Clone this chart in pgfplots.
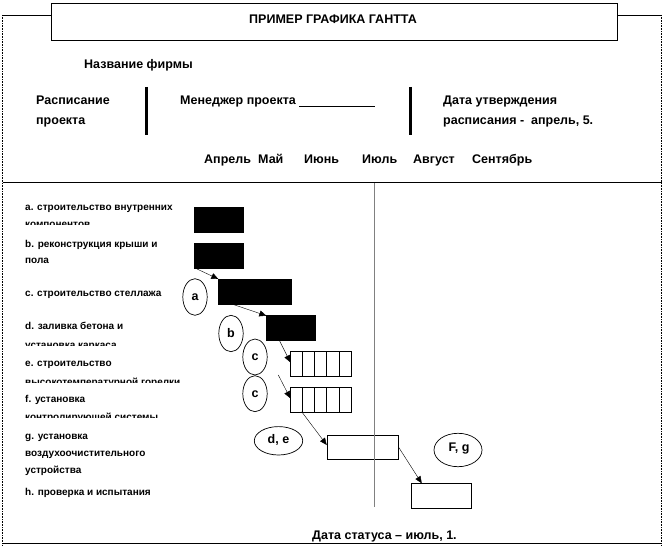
\documentclass[border=0pt]{standalone}
\usepackage{fontspec}
\setmainfont{Liberation Sans}
\usepackage{pgfplots}
\pgfplotsset{compat=1.18}
\usetikzlibrary{arrows.meta}
\newcommand{\hd}{\fontsize{12.5bp}{14bp}\selectfont\bfseries}
\newcommand{\lb}{\fontsize{10bp}{12bp}\selectfont\bfseries}
\begin{document}
\begin{tikzpicture}[x=1bp,y=-1bp]
\path[use as bounding box] (0,0) rectangle (666,546);
\begin{axis}[at={(0,0)}, anchor=north west, scale only axis,
  width=666bp, height=546bp, xmin=0, xmax=666, ymin=0, ymax=546,
  y dir=reverse, axis lines=none, clip=false, unbounded coords=jump]
% black (completed) bars: a, b, c, d
\addplot[fill=black, draw=black] coordinates {(194.3,207)(243,207)(243,231.7)(194.3,231.7)} --cycle;
\addplot[fill=black, draw=black] coordinates {(194.3,243)(243,243)(243,267.7)(194.3,267.7)} --cycle;
\addplot[fill=black, draw=black] coordinates {(218.3,279)(291,279)(291,303.7)(218.3,303.7)} --cycle;
\addplot[fill=black, draw=black] coordinates {(266.3,315)(315,315)(315,339.7)(266.3,339.7)} --cycle;
% hatched bars: e, f
\addplot[fill=white, draw=black] coordinates {(290.3,351)(351,351)(351,375.7)(290.3,375.7)} --cycle;
\addplot[black] coordinates {(302.4,351)(302.4,375.7)(302.4,nan)(314.5,351)(314.5,375.7)(314.5,nan)(326.6,351)(326.6,375.7)(326.6,nan)(338.8,351)(338.8,375.7)};
\addplot[fill=white, draw=black] coordinates {(290.3,387)(351,387)(351,411.7)(290.3,411.7)} --cycle;
\addplot[black] coordinates {(302.4,387)(302.4,411.7)(302.4,nan)(314.5,387)(314.5,411.7)(314.5,nan)(326.6,387)(326.6,411.7)(326.6,nan)(338.8,387)(338.8,411.7)};
% open bars: g, h
\addplot[fill=white, draw=black] coordinates {(326.7,435)(398.3,435)(398.3,459.3)(326.7,459.3)} --cycle;
\addplot[fill=white, draw=black] coordinates {(410.7,483.3)(470.7,483.3)(470.7,507.7)(410.7,507.7)} --cycle;
% status line
\addplot[gray, line width=1bp] coordinates {(374.3,182.7)(374.3,507)};
% precedence arrows
\addplot[black, -{Triangle[length=7bp,width=6bp]}] coordinates {(194.3,267.7)(218.3,279)};
\addplot[black, -{Triangle[length=7bp,width=6bp]}] coordinates {(231,303.7)(266.3,315.7)};
\addplot[black, -{Triangle[length=7bp,width=6bp]}] coordinates {(279,339.7)(290.3,362.3)};
\addplot[black, -{Triangle[length=7bp,width=6bp]}] coordinates {(278.3,375)(290.3,398.3)};
\addplot[black, -{Triangle[length=7bp,width=6bp]}] coordinates {(301.7,411.7)(326.7,445)};
\addplot[black, -{Triangle[length=7bp,width=6bp]}] coordinates {(398.3,446.7)(421.7,483.3)};
\end{axis}
% frame
\draw[line width=0.8bp] (51,3.3) rectangle (617,40);
\draw[line width=0.8bp] (2.5,15) -- (51,15);
\draw[line width=0.8bp] (617,15) -- (661.5,15);
\draw[dash pattern=on 0.8bp off 0.8bp, line width=0.8bp] (2.5,15) -- (2.5,546);
\draw[dash pattern=on 0.8bp off 0.8bp, line width=0.8bp] (661.5,15) -- (661.5,546);
\draw[line width=0.9bp] (2.5,182.5) -- (661.5,182.5);
\draw[line width=0.9bp] (2.5,543.5) -- (661.5,543.5);
\draw[line width=3bp] (146,87) -- (146,135);
\draw[line width=3bp] (410.7,87) -- (410.7,135);
\draw[line width=0.7bp] (299,106) -- (375,106);
% header text
\node[anchor=base, inner sep=0] at (333,24) {\hd ПРИМЕР ГРАФИКА ГАНТТА};
\node[anchor=base west, inner sep=0] at (84,68.3) {\hd Название фирмы};
\node[anchor=base west, inner sep=0] at (36,104.3) {\hd Расписание};
\node[anchor=base west, inner sep=0] at (36,124.5) {\hd проекта};
\node[anchor=base west, inner sep=0] at (180,104.3) {\hd Менеджер проекта};
\node[anchor=base west, inner sep=0] at (443,104.3) {\hd Дата утверждения};
\node[anchor=base west, inner sep=0] at (443,125) {\hd расписания -\ \ апрель, 5.};
\node[anchor=base west, inner sep=0] at (204,164) {\hd Апрель};
\node[anchor=base west, inner sep=0] at (258,164) {\hd Май};
\node[anchor=base west, inner sep=0] at (304,164) {\hd Июнь};
\node[anchor=base west, inner sep=0] at (362,164) {\hd Июль};
\node[anchor=base west, inner sep=0] at (413,164) {\hd Август};
\node[anchor=base west, inner sep=0] at (472,164) {\hd Сентябрь};
\node[anchor=base west, inner sep=0] at (312,539) {\hd Дата статуса – июль, 1.};
% task labels
\node[anchor=base west, inner sep=0] at (25,210.7) {\lb a. строительство внутренних};
\begin{scope}\clip (0,215) rectangle (300,224.5);
\node[anchor=base west, inner sep=0] at (25,227.5) {\lb компонентов};\end{scope}
\node[anchor=base west, inner sep=0] at (25,247.3) {\lb b. реконструкция крыши и};
\node[anchor=base west, inner sep=0] at (25,263.3) {\lb пола};
\node[anchor=base west, inner sep=0] at (25,296) {\lb c. строительство стеллажа};
\node[anchor=base west, inner sep=0] at (25,329.3) {\lb d. заливка бетона и};
\begin{scope}\clip (0,335) rectangle (300,345.8);
\node[anchor=base west, inner sep=0] at (25,348.8) {\lb установка каркаса};\end{scope}
\node[anchor=base west, inner sep=0] at (25,366.7) {\lb e. строительство};
\begin{scope}\clip (0,372) rectangle (300,382);
\node[anchor=base west, inner sep=0] at (25,385) {\lb высокотемпературной горелки};\end{scope}
\node[anchor=base west, inner sep=0] at (25,402.7) {\lb f. установка};
\begin{scope}\clip (0,408) rectangle (300,417);
\node[anchor=base west, inner sep=0] at (25,420) {\lb контролирующей системы};\end{scope}
\node[anchor=base west, inner sep=0] at (25,439) {\lb g. установка};
\node[anchor=base west, inner sep=0] at (25,456) {\lb воздухоочистительного};
\node[anchor=base west, inner sep=0] at (25,473.3) {\lb устройства};
\node[anchor=base west, inner sep=0] at (25,495.3) {\lb h. проверка и испытания};
% ellipses
\draw[line width=0.7bp] (195,297) ellipse [x radius=12.2bp, y radius=18.3bp];
\draw[line width=0.7bp] (231,333.5) ellipse [x radius=12.2bp, y radius=18.2bp];
\draw[line width=0.7bp] (255,357) ellipse [x radius=12.2bp, y radius=18bp];
\draw[line width=0.7bp] (255,393.7) ellipse [x radius=12.2bp, y radius=18bp];
\draw[line width=0.7bp] (278.5,440.8) ellipse [x radius=24.2bp, y radius=14.2bp];
\draw[line width=0.7bp] (458,450) ellipse [x radius=24bp, y radius=16.7bp];
\node[inner sep=0] at (195,297) {\hd a};
\node[inner sep=0] at (231,333.5) {\hd b};
\node[inner sep=0] at (255,357.5) {\hd c};
\node[inner sep=0] at (255,393.7) {\hd c};
\node[inner sep=0] at (278.5,440) {\hd d, e};
\node[inner sep=0] at (459,449) {\hd F, g};
\end{tikzpicture}
\end{document}
